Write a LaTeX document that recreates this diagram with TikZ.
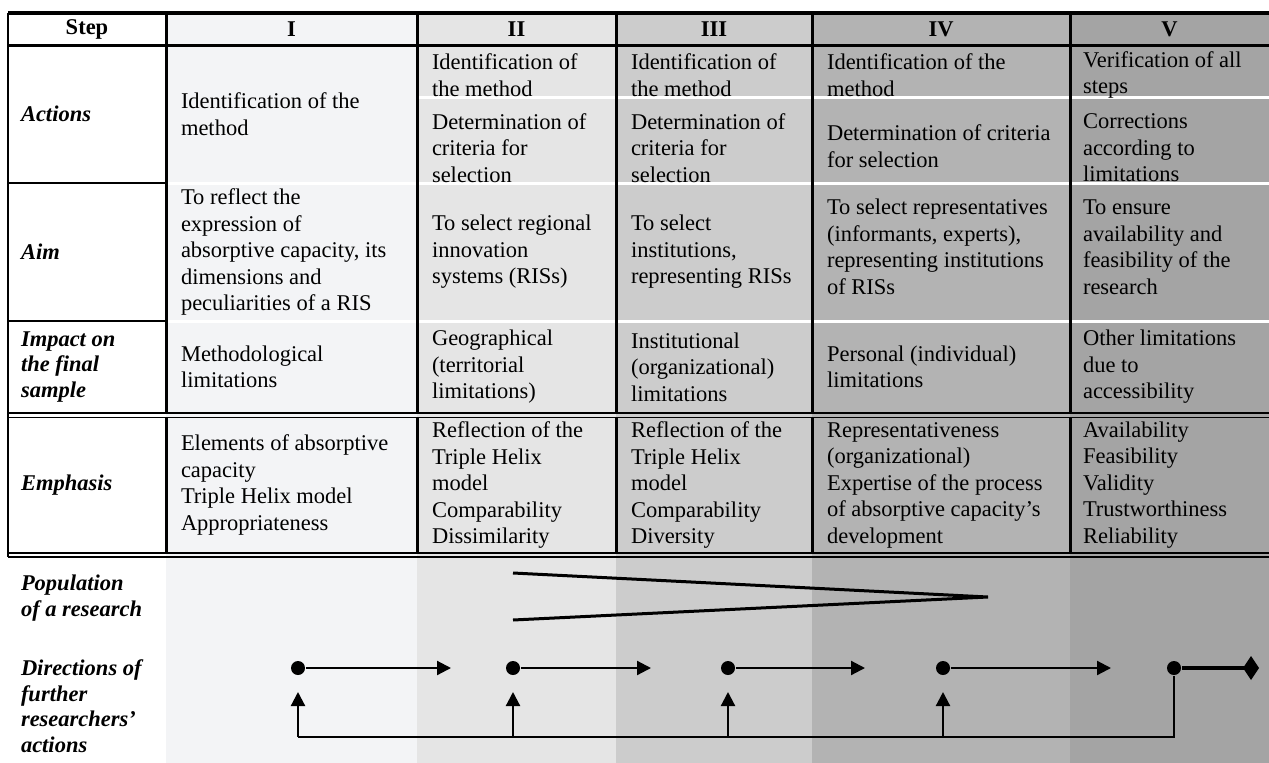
\documentclass[tikz,border=0pt]{standalone}
\usepackage{fontspec}
\setmainfont{Liberation Serif}
\usetikzlibrary{arrows.meta}

\definecolor{shadeI}{HTML}{F3F4F6}
\definecolor{shadeII}{HTML}{E5E5E5}
\definecolor{shadeIII}{HTML}{CCCCCC}
\definecolor{shadeIV}{HTML}{B3B3B3}
\definecolor{shadeV}{HTML}{A4A4A4}

\tikzset{every path/.style={line width=2pt},
  cell/.style={anchor=west,align=left,inner sep=0pt,font=\fontsize{22.5}{26.5}\selectfont},
  headcell/.style={inner sep=0pt,font=\fontsize{22.5}{26.5}\selectfont\bfseries},
  rowlabel/.style={anchor=west,align=left,inner sep=0pt,font=\fontsize{22.5}{25.5}\selectfont\bfseries\itshape},
  rule/.style={line width=3pt},
  gap/.style={white,line width=3pt},
  dot/.style={circle,fill,inner sep=0pt,minimum size=14pt},
  flow/.style={line width=2.2pt,-{Triangle[length=14pt,width=14pt]}}}

\begin{document}
\begin{tikzpicture}[x=1pt,y=-1pt]
  \useasboundingbox (0,0) rectangle (1269,763);
  % column shading, running down to the bottom
  \fill[shadeI]   (166,13) rectangle (417,763);
  \fill[shadeII]  (417,13) rectangle (616,763);
  \fill[shadeIII] (616,13) rectangle (812,763);
  \fill[shadeIV]  (812,13) rectangle (1070,763);
  \fill[shadeV]   (1070,13) rectangle (1269,763);

  % white gaps between rows
  \draw[gap] (166,183) -- (1269,183);
  \draw[gap] (166,321) -- (1269,321);
  \draw[gap] (417,97) -- (1269,97);

  % rules
  \draw[line width=4pt] (8,13) -- (1269,13);
  \draw[rule] (8,45) -- (1269,45);
  \draw (8,183) -- (166,183);
  \draw (8,321) -- (166,321);
  \draw (8,413) -- (1269,413);
  \draw[line width=1.6pt] (8,417.5) -- (1269,417.5);
  \draw (8,553) -- (1269,553);
  \draw[line width=1.6pt] (8,557) -- (1269,557);
  \draw (8,13) -- (8,557);
  \foreach \x in {166,417,616,812,1070} {
    \draw[rule] (\x,13) -- (\x,413);
    \draw[rule] (\x,417.5) -- (\x,553);
  }

  % header
  \node[headcell] (hstep) at (87,29) {Step};
  \node[headcell] (hI)    at (291.5,29) {I};
  \node[headcell] (hII)   at (516.5,29) {II};
  \node[headcell] (hIII)  at (714,29) {III};
  \node[headcell] (hIV)   at (941,29) {IV};
  \node[headcell] (hV)    at (1169.5,29) {V};

  % row labels
  \node[rowlabel] (lact) at (20,114) {Actions};
  \node[rowlabel] (laim) at (20,252) {Aim};
  \node[rowlabel] (limp) at (20,367) {Impact on\\the final\\sample};
  \node[rowlabel] (lemp) at (20,485) {Emphasis};
  \node[rowlabel] (lpop) at (20,598) {Population\\of a research};
  \node[rowlabel] (ldir) at (20,706) {Directions of\\further\\researchers'\\actions};

  % step I
  \node[cell] (actI) at (180,114) {Identification of the\\method};
  \node[cell] (aimI) at (180,252) {To reflect the\\expression of\\absorptive capacity, its\\dimensions and\\peculiarities of a RIS};
  \node[cell] (impI) at (180,367) {Methodological\\limitations};
  \node[cell] (empI) at (180,485) {Elements of absorptive\\capacity\\Triple Helix model\\Appropriateness};

  % step II
  \node[cell] (actIIa) at (431,75) {Identification of\\the method};
  \node[cell] (actIIb) at (431,148) {Determination of\\criteria for\\selection};
  \node[cell] (aimII) at (431,252) {To select regional\\innovation\\systems (RISs)};
  \node[cell] (impII) at (431,367) {Geographical\\(territorial\\limitations)};
  \node[cell] (empII) at (431,485) {Reflection of the\\Triple Helix\\model\\Comparability\\Dissimilarity};

  % step III
  \node[cell] (actIIIa) at (630,75) {Identification of\\the method};
  \node[cell] (actIIIb) at (630,148) {Determination of\\criteria for\\selection};
  \node[cell] (aimIII) at (630,252) {To select\\institutions,\\representing RISs};
  \node[cell] (impIII) at (630,367) {Institutional\\(organizational)\\limitations};
  \node[cell] (empIII) at (630,485) {Reflection of the\\Triple Helix\\model\\Comparability\\Diversity};

  % step IV
  \node[cell] (actIVa) at (826,75) {Identification of the\\method};
  \node[cell] (actIVb) at (826,146) {Determination of criteria\\for selection};
  \node[cell] (aimIV) at (826,247) {To select representatives\\(informants, experts),\\representing institutions\\of RISs};
  \node[cell] (impIV) at (826,367) {Personal (individual)\\limitations};
  \node[cell] (empIV) at (826,485) {Representativeness\\(organizational)\\Expertise of the process\\of absorptive capacity's\\development};

  % step V
  \node[cell] (actVa) at (1082,75) {Verification of all\\steps};
  \node[cell] (actVb) at (1082,148) {Corrections\\according to\\limitations};
  \node[cell] (aimV) at (1082,247) {To ensure\\availability and\\feasibility of the\\research};
  \node[cell] (impV) at (1082,367) {Other limitations\\due to\\accessibility};
  \node[cell] (empV) at (1082,485) {Availability\\Feasibility\\Validity\\Trustworthiness\\Reliability};

  % population wedge
  \coordinate (wtop) at (513,573);
  \coordinate (wbot) at (513,620);
  \coordinate (wtip) at (988,597);
  \draw[line width=3pt] (wtop) -- (wtip) -- (wbot);

  % directions of further actions
  \node[dot] (d1) at (298,668) {};
  \node[dot] (d2) at (513,668) {};
  \node[dot] (d3) at (728,668) {};
  \node[dot] (d4) at (943,668) {};
  \node[dot] (d5) at (1174,668) {};
  \coordinate (e1) at (451,668);
  \coordinate (e2) at (651,668);
  \coordinate (e3) at (865,668);
  \coordinate (e4) at (1111,668);
  \coordinate (e5) at (1259,668);
  \foreach \i/\x in {1/298,2/513,3/728,4/943,5/1174} {
    \coordinate (b\i) at (\x,737);
    \coordinate (t\i) at (\x,692);
  }
  \foreach \i in {1,...,4} {
    \draw[flow] (d\i) -- (e\i);
    \draw[flow] (b\i) -- (t\i);
  }
  \draw[line width=4pt,-{Diamond[length=16pt,width=24pt]}] (d5) -- (e5);
  \draw (b1) -- (b5) -- (d5);
\end{tikzpicture}
\end{document}
